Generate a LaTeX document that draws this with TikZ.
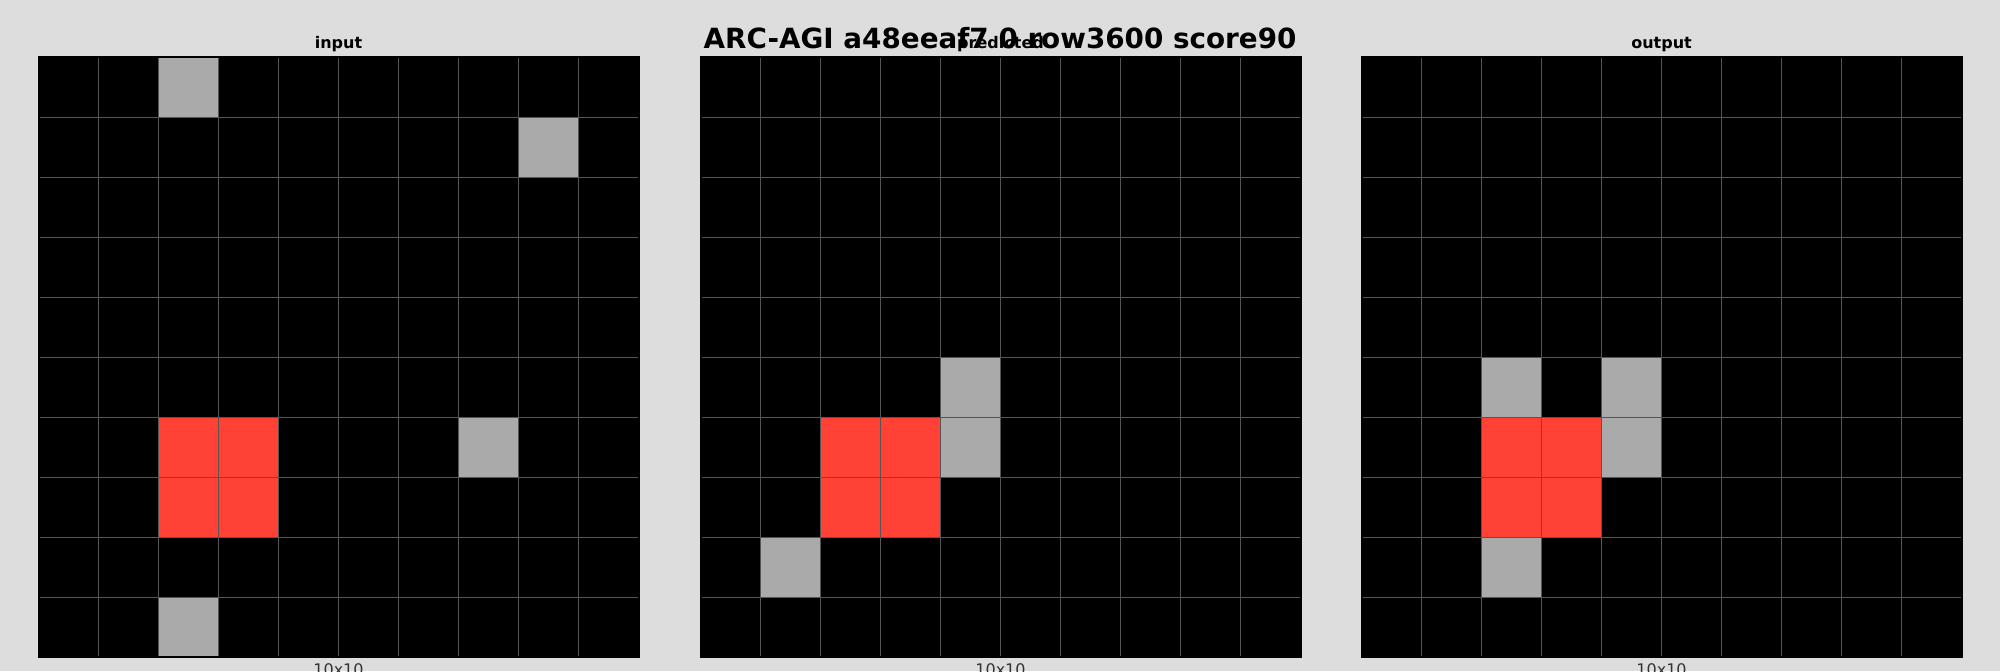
\documentclass[tikz,border=0pt]{standalone}
\usepackage{fontspec}
\setmainfont{DejaVu Sans}
\definecolor{bgc}{HTML}{DDDDDD}
\definecolor{grayc}{HTML}{AAAAAA}
\definecolor{redc}{HTML}{FF4136}
\definecolor{gridc}{HTML}{555555}
\definecolor{labc}{HTML}{333333}
\newcommand\paintcell[4]{\fill[#4] ({#1+#3*60},{57+#2*60}) rectangle ++(60,60);}
\begin{document}
\begin{tikzpicture}[x=0.5pt,y=-0.5pt,
  gridline/.style={draw=gridc, line width=0.5pt},
  frame/.style={draw=black, line width=1pt},
  sub/.style={anchor=base, font=\bfseries\fontsize{8}{10}\selectfont},
  dimlab/.style={anchor=base, text=labc, font=\fontsize{8}{10}\selectfont}]
\fill[bgc] (0,0) rectangle (2000,671);
\useasboundingbox (0,0) rectangle (2000,671);
% backgrounds
\foreach \ox in {38.5,700.5,1361.5}{\fill[black] (\ox,57) rectangle ++(600,600);}
% input
\foreach \r/\c in {0/2,1/8,6/7,9/2}{\paintcell{38.5}{\r}{\c}{grayc}}
\foreach \r/\c in {6/2,6/3,7/2,7/3}{\paintcell{38.5}{\r}{\c}{redc}}
% predicted
\foreach \r/\c in {5/4,6/4,8/1}{\paintcell{700.5}{\r}{\c}{grayc}}
\foreach \r/\c in {6/2,6/3,7/2,7/3}{\paintcell{700.5}{\r}{\c}{redc}}
% output
\foreach \r/\c in {5/2,5/4,6/4,8/2}{\paintcell{1361.5}{\r}{\c}{grayc}}
\foreach \r/\c in {6/2,6/3,7/2,7/3}{\paintcell{1361.5}{\r}{\c}{redc}}
% grid lines
\foreach \ox in {38.5,700.5,1361.5}{
  \foreach \i in {1,...,9}{
    \draw[gridline] ({\ox+\i*60},57) -- ++(0,600);
    \draw[gridline] (\ox,{57+\i*60}) -- ++(600,0);
  }
  \draw[frame] (\ox,57) rectangle ++(600,600);
}
% labels
\node[sub] (tin) at (338.5,48) {input};
\node[sub] (tpred) at (1000.5,48) {predicted};
\node[sub] (tout) at (1661.5,48) {output};
\node[dimlab] (din) at (338.5,675) {10x10};
\node[dimlab] (dpred) at (1000.5,675) {10x10};
\node[dimlab] (dout) at (1661.5,675) {10x10};
\node[anchor=base, font=\bfseries\fontsize{13.9}{16}\selectfont] (title) at (1000,48.5) {ARC-AGI a48eeaf7 0 row3600 score90};
\end{tikzpicture}
\end{document}
